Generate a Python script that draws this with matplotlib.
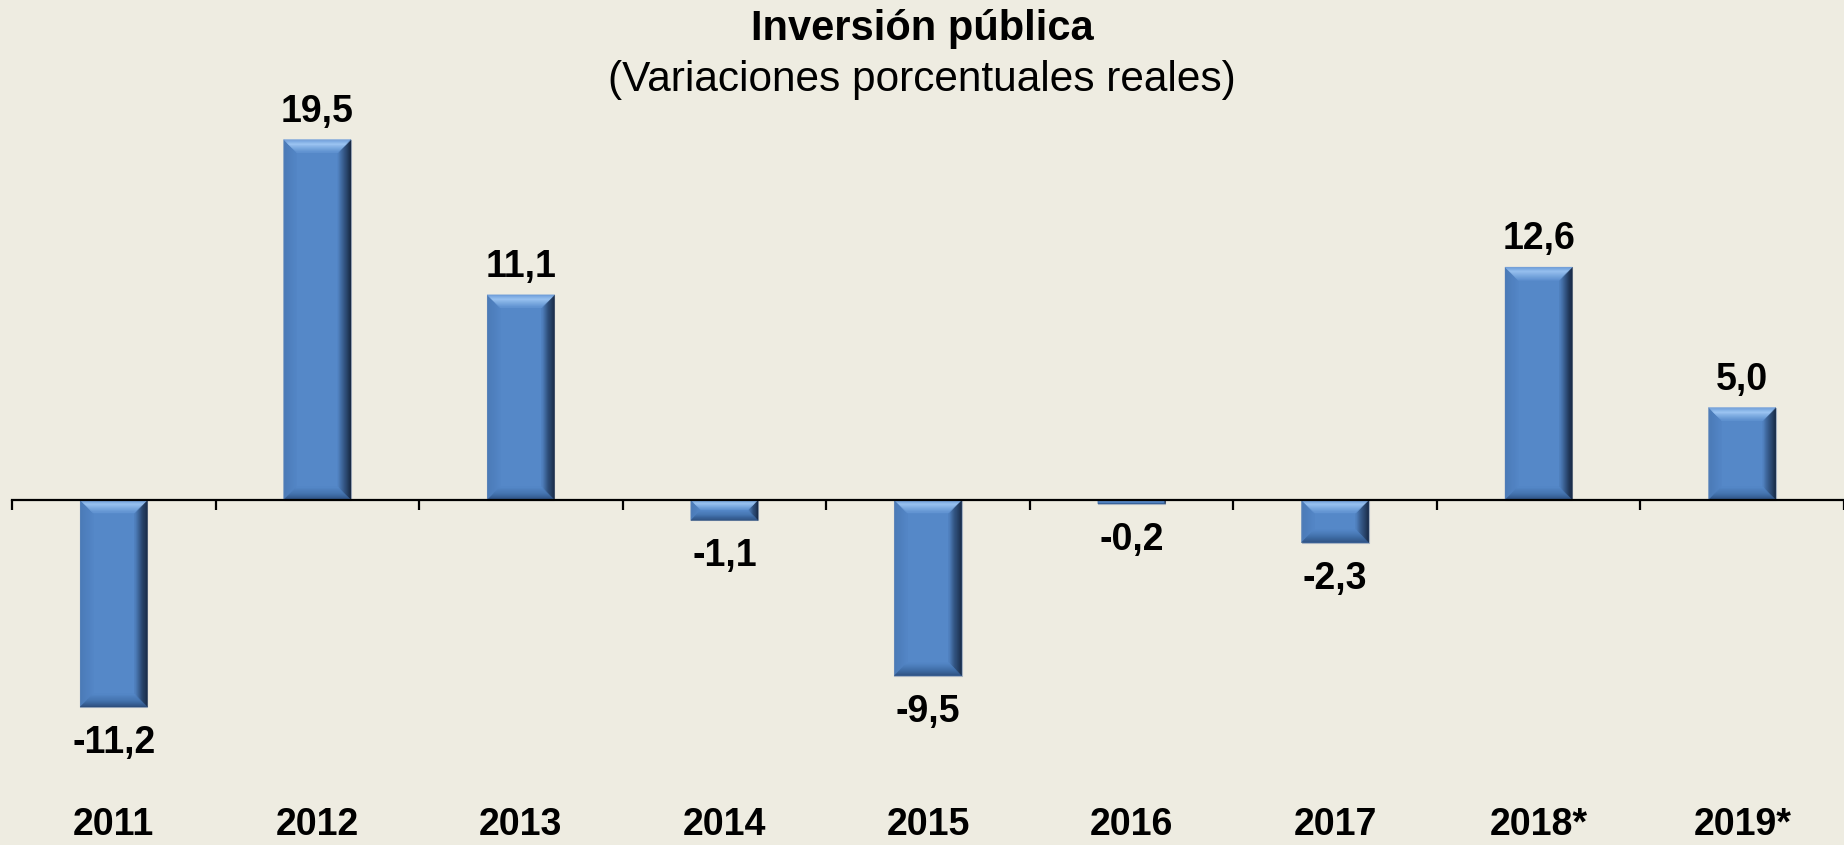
import matplotlib
matplotlib.use("Agg")
import matplotlib.pyplot as plt
from matplotlib.patches import Polygon
from matplotlib.colors import to_rgb
import matplotlib.transforms as mtransforms
import numpy as np

years = ["2011", "2012", "2013", "2014", "2015", "2016", "2017", "2018*", "2019*"]
values = [-11.2, 19.5, 11.1, -1.1, -9.5, -0.2, -2.3, 12.6, 5.0]
labels = ["-11,2", "19,5", "11,1", "-1,1", "-9,5", "-0,2", "-2,3", "12,6", "5,0"]

W, H = 1844, 845
bg = "#EEECE1"
fig = plt.figure(figsize=(W / 100, H / 100 + 0.0001), dpi=100, facecolor=bg)

px_per_x = 204.0
px_per_y = 18.48
zero_px = 500.0
ax_left, ax_top = 12.0, 100.0
ax = fig.add_axes([ax_left / W, 0, 1 - ax_left / W, 1 - ax_top / H])
ax.set_facecolor(bg)
ax.set_xlim(-0.5, -0.5 + (W - ax_left) / px_per_x)
ax.set_ylim(-(H - zero_px) / px_per_y, (zero_px - ax_top) / px_per_y)

for s in ["top", "right", "left"]:
    ax.spines[s].set_visible(False)
ax.spines["bottom"].set_position(("data", 0))
ax.spines["bottom"].set_linewidth(1.6)
ax.spines["bottom"].set_zorder(5)
ax.set_yticks([])
ax.set_xticks([i - 0.5 for i in range(len(years) + 1)])
ax.set_xticklabels([])
ax.tick_params(axis="x", direction="out", length=7, width=1.6, color="black")

width = 0.33
main_c = "#5588C8"
ax.bar(range(len(years)), values, width=width, color=main_c,
       edgecolor="#A7B3C2", linewidth=0.8, zorder=3)


def interp(stops, t):
    ts = [s[0] for s in stops]
    cs = np.array([to_rgb(s[1]) for s in stops])
    return tuple(np.interp(t, ts, cs[:, k]) for k in range(3))


grad = {
    "top": [(0, "#6A9AD8"), (0.35, "#9DC6F3"), (1, "#5E91D0")],
    "right": [(0, "#14223A"), (0.5, "#2E4E79"), (1, "#5283C2")],
    "left": [(0, "#4A79B6"), (1, "#5386C6")],
    "bottom": [(0, "#2B4C7A"), (0.5, "#4271AC"), (1, "#5588C8")],
}

bx = 13 / px_per_x
by = 13 / px_per_y
N = 12
for i, v in enumerate(values):
    x0, x1 = i - width / 2, i + width / 2
    lo, hi = min(0, v), max(0, v)
    h = hi - lo
    dy = min(by, h / 2)
    dx = bx if h / 2 >= by else bx * (h / 2) / by
    for k in range(N):
        ta, tb = k / N, (k + 1) / N
        tm = (ta + tb) / 2
        sides = {
            "top": [(x0 + ta * dx, hi - ta * dy), (x1 - ta * dx, hi - ta * dy),
                    (x1 - tb * dx, hi - tb * dy), (x0 + tb * dx, hi - tb * dy)],
            "bottom": [(x0 + ta * dx, lo + ta * dy), (x1 - ta * dx, lo + ta * dy),
                       (x1 - tb * dx, lo + tb * dy), (x0 + tb * dx, lo + tb * dy)],
            "left": [(x0 + ta * dx, lo + ta * dy), (x0 + ta * dx, hi - ta * dy),
                     (x0 + tb * dx, hi - tb * dy), (x0 + tb * dx, lo + tb * dy)],
            "right": [(x1 - ta * dx, lo + ta * dy), (x1 - ta * dx, hi - ta * dy),
                      (x1 - tb * dx, hi - tb * dy), (x1 - tb * dx, lo + tb * dy)],
        }
        for name in ["left", "right", "top", "bottom"]:
            c = interp(grad[name], tm)
            ax.add_patch(Polygon(sides[name], closed=True, facecolor=c,
                                 edgecolor=c, linewidth=0.3, zorder=4))

for i, (v, lab) in enumerate(zip(values, labels)):
    off = 20 if v > 0 else -26
    ax.annotate(lab, xy=(i, v), xytext=(0, off), textcoords="offset points",
                ha="center", va="center", fontsize=27, fontweight="bold",
                family="Liberation Sans", color="black", zorder=6)

trans = mtransforms.blended_transform_factory(ax.transData, fig.transFigure)
for i, y in enumerate(years):
    ax.text(i, 1 - 835 / H, y, transform=trans, ha="center", va="baseline",
            fontsize=27, fontweight="bold", family="Liberation Sans", color="black")

fig.text(0.5, 1 - 29 / H, "Inversión pública", ha="center", va="center",
         fontsize=30, fontweight="bold", family="Liberation Sans", color="black")
fig.text(0.5, 1 - 80 / H, "(Variaciones porcentuales reales)", ha="center", va="center",
         fontsize=30.5, family="Liberation Sans", color="black")

fig.savefig("out.png", dpi=100, facecolor=bg)
